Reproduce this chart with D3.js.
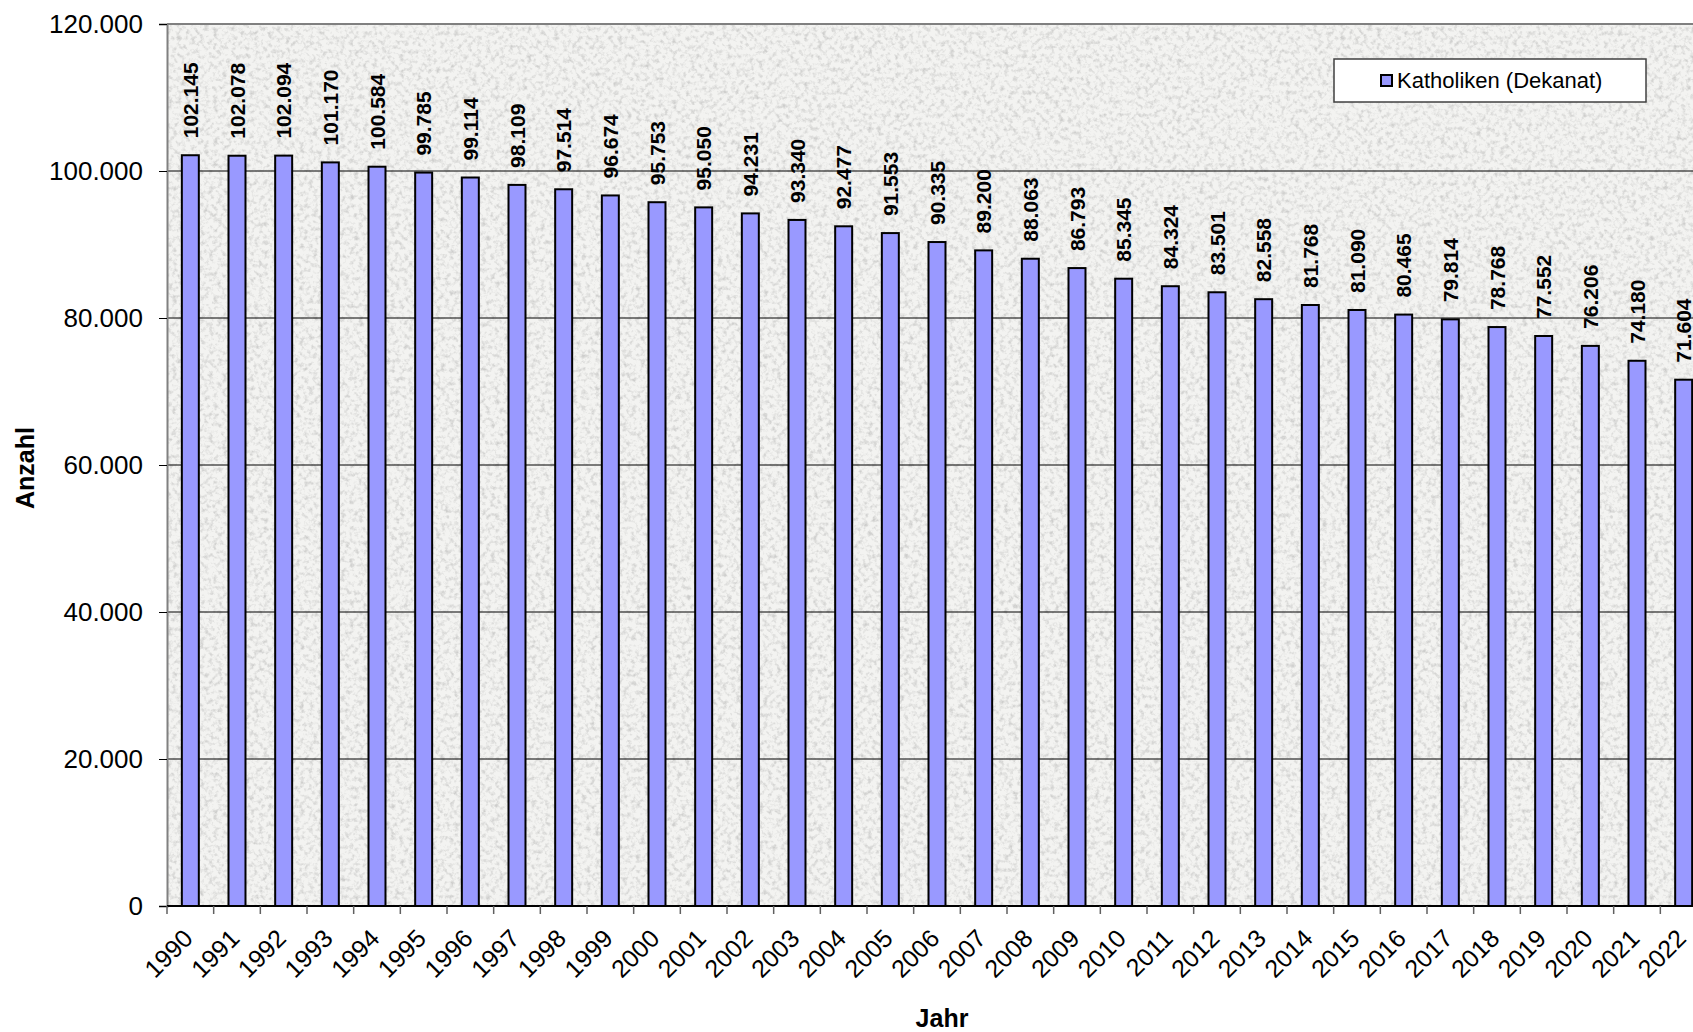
<!DOCTYPE html>
<html>
<head>
<meta charset="utf-8">
<script src="https://cdn.jsdelivr.net/npm/d3@7"></script>
<style>
html,body{margin:0;padding:0;background:#fff;}
svg{display:block;font-family:"Liberation Sans",Arial,sans-serif;}
</style>
</head>
<body>
<svg id="chart" width="1693" height="1032"></svg>
<script>
const years = ["1990","1991","1992","1993","1994","1995","1996","1997","1998","1999","2000","2001","2002","2003","2004","2005","2006","2007","2008","2009","2010","2011","2012","2013","2014","2015","2016","2017","2018","2019","2020","2021","2022"];
const katholiken = [102145,102078,102094,101170,100584,99785,99114,98109,97514,96674,95753,95050,94231,93340,92477,91553,90335,89200,88063,86793,85345,84324,83501,82558,81768,81090,80465,79814,78768,77552,76206,74180,71604];
const yTicks = [0,20000,40000,60000,80000,100000,120000];
const seriesName = "Katholiken (Dekanat)";
const xTitle = "Jahr";
const yTitle = "Anzahl";

const loc = d3.formatLocale({decimal:",", thousands:".", grouping:[3], currency:["","€"]});
const fmt = loc.format(",d");

const svg = d3.select("#chart");
const L = 167, R = 1707, T = 24, B = 906;

const x = d3.scaleBand().domain(years).range([L, R]).paddingInner(0.636).paddingOuter(0.318);
const y = d3.scaleLinear().domain([0, 120000]).range([B, T]);

// texture filter
const defs = svg.append("defs");
const f = defs.append("filter").attr("id","granite").attr("x",0).attr("y",0).attr("width","100%").attr("height","100%");
f.append("feTurbulence").attr("type","fractalNoise").attr("baseFrequency","0.22").attr("numOctaves",3).attr("seed",7).attr("result","n");
f.append("feColorMatrix").attr("in","n").attr("type","matrix")
  .attr("values","0 0 0 0 0.62  0 0 0 0 0.62  0 0 0 0 0.61  2.6 0 0 0 -1.2");
defs.append("clipPath").attr("id","clip").append("rect").attr("x",L).attr("y",T-2).attr("width",R-L).attr("height",B-T+4);

const plot = svg.append("g").attr("clip-path","url(#clip)");
plot.append("rect").attr("x",L).attr("y",T).attr("width",R-L).attr("height",B-T).attr("fill","#f3f3f1");
plot.append("rect").attr("x",L).attr("y",T).attr("width",R-L).attr("height",B-T).attr("filter","url(#granite)");

// gridlines
plot.selectAll("line.grid").data(yTicks.filter(d=>d>0 && d<120000)).join("line")
  .attr("x1",L).attr("x2",R).attr("y1",d=>y(d)).attr("y2",d=>y(d))
  .attr("stroke","#000").attr("stroke-width",1);
// top border
plot.append("line").attr("x1",L).attr("x2",R).attr("y1",y(120000)).attr("y2",y(120000))
  .attr("stroke","#808080").attr("stroke-width",2);

// bars
plot.selectAll("rect.bar").data(katholiken).join("rect")
  .attr("x",(d,i)=>x(years[i])).attr("width",x.bandwidth())
  .attr("y",d=>y(d)).attr("height",d=>B-y(d))
  .attr("fill","#9999ff").attr("stroke","#000").attr("stroke-width",2);

// value labels
plot.selectAll("text.val").data(katholiken).join("text")
  .attr("transform",(d,i)=>`translate(${x(years[i])+x.bandwidth()/2},${y(d)-17}) rotate(-90)`)
  .attr("dy","0.36em").attr("text-anchor","start")
  .attr("font-size",21).attr("font-weight","bold").attr("fill","#000")
  .text(d=>fmt(d));

// y axis
const yAxis = svg.append("g").attr("transform",`translate(${L},0)`)
  .call(d3.axisLeft(y).tickValues(yTicks).tickSize(8).tickPadding(16).tickFormat(d=>fmt(d)));
yAxis.select(".domain").attr("stroke","#808080").attr("stroke-width",2);
yAxis.selectAll(".tick line").attr("stroke","#000");
yAxis.selectAll(".tick text").attr("font-size",26).attr("fill","#000").attr("font-family","Liberation Sans, Arial, sans-serif");

// x axis baseline
svg.append("line").attr("x1",L).attr("x2",R).attr("y1",B).attr("y2",B).attr("stroke","#000").attr("stroke-width",2);
// x ticks at category boundaries
const step = x.step();
svg.selectAll("line.xt").data(d3.range(years.length+1)).join("line")
  .attr("x1",i=>L+i*step).attr("x2",i=>L+i*step).attr("y1",B).attr("y2",B+8)
  .attr("stroke","#606060").attr("stroke-width",1.5);
// x labels
svg.selectAll("text.xl").data(years).join("text")
  .attr("transform",d=>`translate(${x(d)+x.bandwidth()/2+4},${B+34}) rotate(-45)`)
  .attr("text-anchor","end").attr("font-size",25).attr("fill","#000")
  .text(d=>d);

// axis titles
svg.append("text").attr("transform",`translate(25,468) rotate(-90)`).attr("dy","0.35em")
  .attr("text-anchor","middle").attr("font-size",25).attr("font-weight","bold").text(yTitle);
svg.append("text").attr("x",942).attr("y",1027).attr("text-anchor","middle")
  .attr("font-size",25).attr("font-weight","bold").text(xTitle);

// legend
const lg = svg.append("g");
lg.append("rect").attr("x",1334).attr("y",59).attr("width",312).attr("height",43)
  .attr("fill","#fff").attr("stroke","#404040").attr("stroke-width",1.5);
lg.append("rect").attr("x",1381).attr("y",75).attr("width",11).attr("height",11)
  .attr("fill","#9999ff").attr("stroke","#000").attr("stroke-width",2);
lg.append("text").attr("x",1397).attr("y",88).attr("font-size",22).attr("fill","#000").text(seriesName);
</script>
</body>
</html>
